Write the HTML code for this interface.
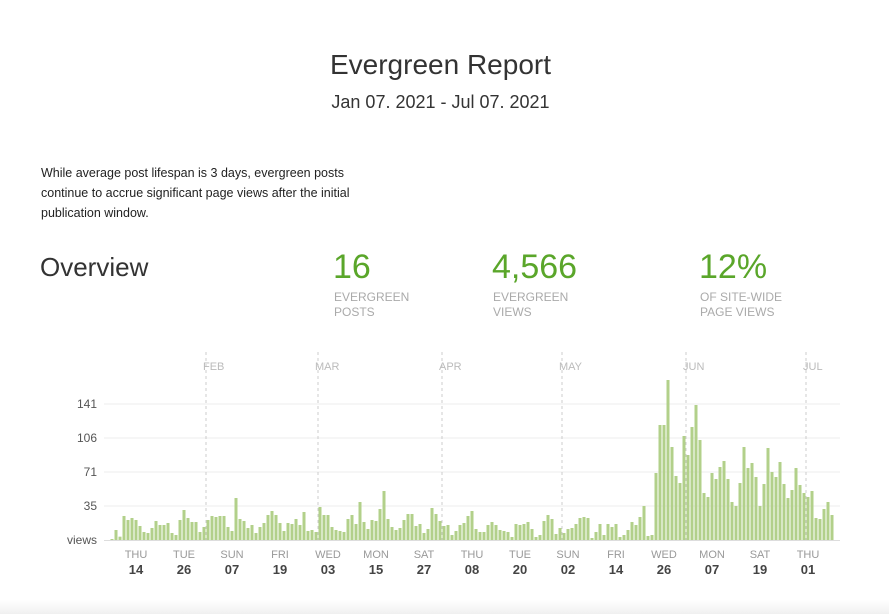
<!DOCTYPE html>
<html><head><meta charset="utf-8"><style>
body{margin:0;width:889px;height:614px;background:#fff;font-family:"Liberation Sans",sans-serif;position:relative;overflow:hidden;color:#333}
.a{position:absolute;white-space:nowrap}
.big{color:#5aa62a;font-size:34px;top:248px}
.lab{color:#aaa;font-size:12px;letter-spacing:0px;line-height:15px;top:290px}
</style></head><body>
<div class="a" style="left:0;width:881px;text-align:center;top:49px;font-size:28px;color:#333">Evergreen Report</div>
<div class="a" style="left:0;width:881px;text-align:center;top:92px;font-size:18px;color:#333">Jan 07. 2021 - Jul 07. 2021</div>
<div class="a" style="left:41px;top:163px;font-size:12.5px;line-height:20px;color:#222">While average post lifespan is 3 days, evergreen posts<br>continue to accrue significant page views after the initial<br>publication window.</div>
<div class="a" style="left:40px;top:252px;font-size:26px;color:#333">Overview</div>
<div class="a big" style="left:333px">16</div>
<div class="a lab" style="left:334px">EVERGREEN<br>POSTS</div>
<div class="a big" style="left:492px">4,566</div>
<div class="a lab" style="left:493px">EVERGREEN<br>VIEWS</div>
<div class="a big" style="left:699px">12%</div>
<div class="a lab" style="left:700px">OF SITE-WIDE<br>PAGE VIEWS</div>
<div class="a" style="left:0;top:600px;width:889px;height:14px;background:linear-gradient(#fff,#f0f0f0)"></div>
<svg class="a" style="left:0;top:0" width="889" height="614" id="s"></svg>
<script>
var s=document.getElementById('s'),h='';
[404,438,472,506].forEach(function(y){h+='<line x1="104" x2="840" y1="'+y+'" y2="'+y+'" stroke="#eee"/>';});
h+='<line x1="104" x2="840" y1="540.5" y2="540.5" stroke="#ddd"/>';
[['141',404],['106',438],['71',472],['35',506],['views',540]].forEach(function(a){h+='<text x="97" y="'+(a[1]+4)+'" text-anchor="end" font-size="12" fill="#555" font-family="Liberation Sans">'+a[0]+'</text>';});
[['FEB',206],['MAR',318],['APR',442],['MAY',562],['JUN',686],['JUL',806]].forEach(function(m){h+='<line x1="'+m[1]+'" x2="'+m[1]+'" y1="352" y2="540" stroke="#ccc" stroke-dasharray="3,3"/><text x="'+(m[1]-3)+'" y="370" font-size="11" fill="#bbb" font-family="Liberation Sans">'+m[0]+'</text>';});
var t1=[507,480,500,438,450,444,450,468,486,489,474,453,465,465,459,489,495,450,420,444,456,456,486,471,450,438,441,438,438,471,483,384,447,453,474,465,489,471,459,435,423,435,459,483,459,462,447,465,426,483,480,486,411,435,435,471,480,483,486,447,435,462,396,456,477,450,453,417,363,447,471,480,474,450,432,432,468,462,489,477,414,432,453,468,465,495,483,465,459,438];
var t2=[423,477,486,486,465,456,465,480,483,486,501,462,465,462,456,477,501,495,453,435,447,492,474,489,477,474,462,444,441,444,504,486,462,495,462,471,462,501,495,480,456,465,441,408,498,495,309,165,165,30,231,318,339,198,255,171,105,210,369,381,309,327,291,273,327,396,408,339,231,294,279,321,408,342,234,306,321,276,342,384,360,294,345,369,381,363,444,447,417,396,435];
var t=t1.concat(t2);
for(var i=0;i<t.length;i++){var hh=(510-t[i])/3;var x=112+4*i-1.5;h+='<rect x="'+x+'" y="'+(540-hh)+'" width="3" height="'+hh+'" fill="#b2d08a"/>';}
[['THU','14',136],['TUE','26',184],['SUN','07',232],['FRI','19',280],['WED','03',328],['MON','15',376],['SAT','27',424],['THU','08',472],['TUE','20',520],['SUN','02',568],['FRI','14',616],['WED','26',664],['MON','07',712],['SAT','19',760],['THU','01',808]].forEach(function(d){h+='<text x="'+d[2]+'" y="558" text-anchor="middle" font-size="11" fill="#999" font-family="Liberation Sans">'+d[0]+'</text><text x="'+d[2]+'" y="574" text-anchor="middle" font-size="13" font-weight="bold" fill="#444" font-family="Liberation Sans">'+d[1]+'</text>';});
s.innerHTML=h;
</script>
</body></html>
